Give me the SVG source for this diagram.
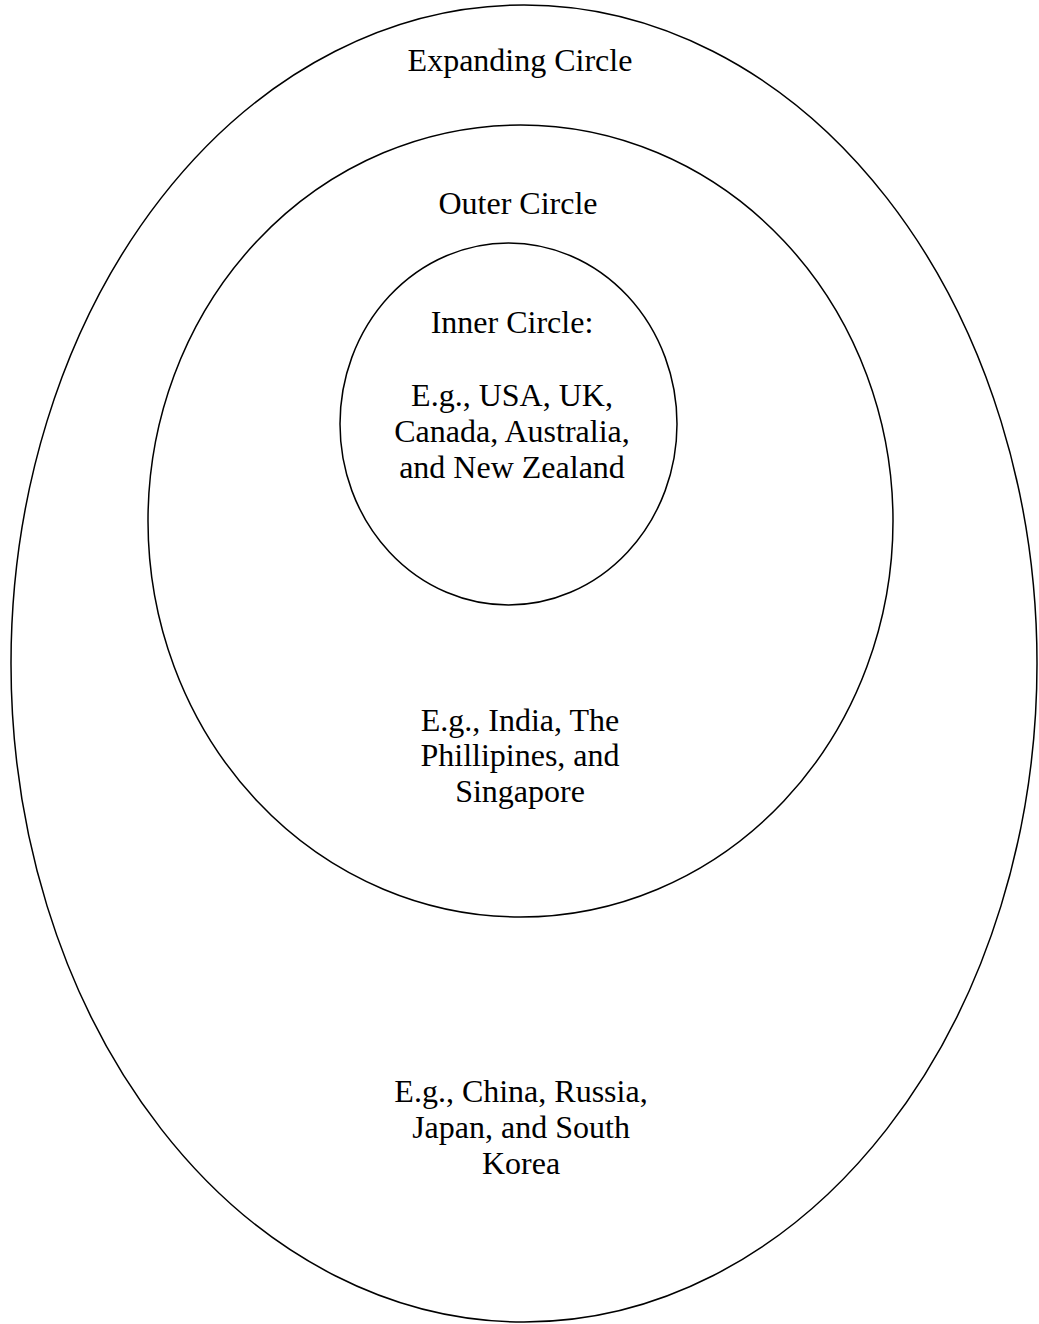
<svg xmlns="http://www.w3.org/2000/svg" width="1039" height="1324" viewBox="0 0 1039 1324">
<style>
.c{fill:none;stroke:#000;stroke-width:1.5}
.t{font-family:"Liberation Serif","Times New Roman",serif;font-size:32px;fill:#000;text-anchor:middle}
</style>
<rect width="1039" height="1324" fill="#fff"/>
<g id="expanding">
<ellipse class="c" cx="524" cy="663.5" rx="513" ry="658.5"/>
<text class="t" x="520" y="71">Expanding Circle</text>
<text class="t" x="521" y="1102">E.g., China, Russia,</text>
<text class="t" x="521" y="1138">Japan, and South</text>
<text class="t" x="521" y="1174">Korea</text>
</g>
<g id="outer">
<ellipse class="c" cx="520.5" cy="521" rx="372.5" ry="396"/>
<text class="t" x="518" y="214">Outer Circle</text>
<text class="t" x="520" y="731">E.g., India, The</text>
<text class="t" x="520" y="766">Phillipines, and</text>
<text class="t" x="520" y="802">Singapore</text>
</g>
<g id="inner">
<ellipse class="c" cx="508.5" cy="424" rx="168.5" ry="181"/>
<text class="t" x="512" y="333">Inner Circle:</text>
<text class="t" x="512" y="406">E.g., USA, UK,</text>
<text class="t" x="512" y="442">Canada, Australia,</text>
<text class="t" x="512" y="478">and New Zealand</text>
</g>
<g id="connectors"/>
</svg>
